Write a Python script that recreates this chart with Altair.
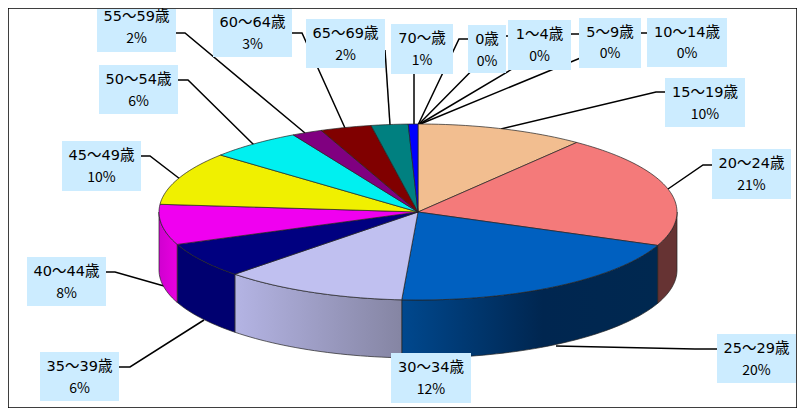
import math
import altair as alt
import pandas as pd

# ---- data ----
ages = ["15～19歳", "20～24歳", "25～29歳", "30～34歳", "35～39歳", "40～44歳", "45～49歳",
        "50～54歳", "55～59歳", "60～64歳", "65～69歳", "70～歳", "0歳", "1～4歳", "5～9歳", "10～14歳"]
shares = [10.5, 20.7, 19.8, 11.5, 6.5, 7.4, 9.8, 5.8, 1.9, 3.2, 2.3, 0.6, 0, 0, 0, 0]
pct_labels = ["10%", "21%", "20%", "12%", "6%", "8%", "10%", "6%", "2%", "3%", "2%", "1%", "0%", "0%", "0%", "0%"]
top_colors = ["#F2BE90", "#F47A7A", "#0060C0", "#C0C0F0", "#000080", "#F000F0", "#F0F000",
              "#00F0F0", "#800080", "#800000", "#008080", "#0000FF", "#000000", "#000000", "#000000", "#000000"]

# ---- layout ----
boxes = [(665, 745, 78, 127), (712, 791, 149, 199), (717, 796, 334, 383), (391, 471, 353, 403),
         (40, 119, 352, 401), (27, 106, 257, 306), (62, 141, 141, 191), (99, 178, 65, 114),
         (97, 176, 9, 52), (213, 292, 9, 57), (306, 385, 19, 68), (391, 453, 24, 74),
         (468, 506, 25, 73), (508, 571, 20, 70), (579, 641, 18, 68), (647, 727, 18, 67)]
leaders = [[(665, 92), (656, 92), (501, 129)], [(712, 165), (703, 165), (668, 189)],
           [(717, 349), (695, 349), (556, 346)], [],
           [(119, 367), (130, 367), (204, 320)], [(106, 272), (115, 272), (164, 286)],
           [(141, 156), (150, 156), (180, 179)], [(178, 80), (188, 80), (254, 145)],
           [(176, 33), (185, 33), (305, 133)], [(292, 33), (302, 33), (345, 128)],
           [(385, 50), (390, 125)], [(414, 60), (414, 125)],
           [(468, 39), (459, 39), (418, 125)], [(508, 36), (506, 36), (418, 125)],
           [(579, 34), (571, 34), (418, 125)], [(647, 33), (641, 33), (418, 125)]]
line1_y = [93, 164, 349, 368, 367, 272, 156, 80, 17, 23, 34, 39, 40, 35, 33, 33]
line2_y = [115, 186, 371, 390, 389, 294, 178, 102, 39, 45, 56, 61, 62, 57, 54, 54]
CX, CY, RX, RY, DEPTH = 418, 212, 259, 88, 58
X0, Y0, X1, Y1 = 8, 8, 797, 408

xs = alt.Scale(domain=[X0, X1], range=[0, X1 - X0], nice=False, zero=False)
ys = alt.Scale(domain=[Y0, Y1], range=[0, Y1 - Y0], nice=False, zero=False)
X = lambda f: alt.X(f, type="quantitative", scale=xs, axis=None)
Y = lambda f: alt.Y(f, type="quantitative", scale=ys, axis=None)


def ell(theta, dy=0):
    t = math.radians(theta)
    return CX + RX * math.sin(t), CY - RY * math.cos(t) + dy


def poly(points, fill, stroke="#222222", sw=0.7):
    pts = list(points) + [points[0]]
    df = pd.DataFrame({"x": [p[0] for p in pts], "y": [p[1] for p in pts], "i": range(len(pts))})
    return alt.Chart(df).mark_line(fill=fill, stroke=stroke, strokeWidth=sw, interpolate="linear").encode(
        x=X("x"), y=Y("y"), order=alt.Order("i:Q"))


def grad(*stops):
    return alt.Gradient(gradient="linear", x1=0, x2=1, y1=0, y2=0,
                        stops=[alt.GradientStop(offset=o, color=c) for o, c in stops])


side_fill = {
    1: "#663333",
    2: grad((0, "#00488E"), (0.55, "#002650"), (1, "#002850")),
    3: grad((0, "#B4B4E4"), (1, "#8585A3")),
    4: "#000070",
    5: grad((0, "#D000D0"), (1, "#E800E0")),
}

layers = []
# leader lines
for pts in leaders:
    if pts:
        df = pd.DataFrame({"x": [p[0] for p in pts], "y": [p[1] for p in pts], "i": range(len(pts))})
        layers.append(alt.Chart(df).mark_line(color="#000000", strokeWidth=1.5).encode(
            x=X("x"), y=Y("y"), order=alt.Order("i:Q")))

# wedges
total = sum(shares)
angles = [0.0]
for s in shares:
    angles.append(angles[-1] + 360 * s / total)

for k, fill in side_fill.items():
    a, b = max(angles[k], 90), min(angles[k + 1], 270)
    n = max(2, int((b - a) / 1.5))
    tht = [a + (b - a) * j / n for j in range(n + 1)]
    layers.append(poly([ell(t) for t in tht] + [ell(t, DEPTH) for t in reversed(tht)], fill))

for k, s in enumerate(shares):
    if s <= 0:
        continue
    a, b = angles[k], angles[k + 1]
    n = max(2, int((b - a) / 1.5))
    pts = [(CX, CY)] + [ell(a + (b - a) * j / n) for j in range(n + 1)]
    layers.append(poly(pts, top_colors[k]))

# label boxes and text
box_df = pd.DataFrame(boxes, columns=["x", "x2", "y", "y2"])
layers.append(alt.Chart(box_df).mark_rect(color="#CCECFF").encode(
    x=X("x"), x2=alt.X2("x2"), y=Y("y"), y2=alt.Y2("y2")))

txt_df = pd.DataFrame({
    "x": [(b[0] + b[1]) / 2 for b in boxes],
    "y1": line1_y,
    "y2": line2_y,
    "age": ages,
    "pct": pct_labels,
})
layers.append(alt.Chart(txt_df).mark_text(font="DejaVu Sans, Noto Sans CJK JP", fontSize=14.5, color="#000000",
                                          baseline="middle", align="center").encode(
    x=X("x"), y=Y("y1"), text="age:N"))
layers.append(alt.Chart(txt_df).mark_text(font="Noto Sans CJK JP", fontSize=14, color="#000000",
                                          baseline="middle", align="center").encode(
    x=X("x"), y=Y("y2"), text="pct:N"))

chart = alt.layer(*layers).properties(
    width=X1 - X0, height=Y1 - Y0,
    padding=0, autosize=alt.AutoSizeParams(type="none"), background="#FFFFFF",
).configure_view(stroke="#000000", strokeWidth=1.5)

chart.save("out.html", embed_options={"renderer": "svg", "actions": False})
